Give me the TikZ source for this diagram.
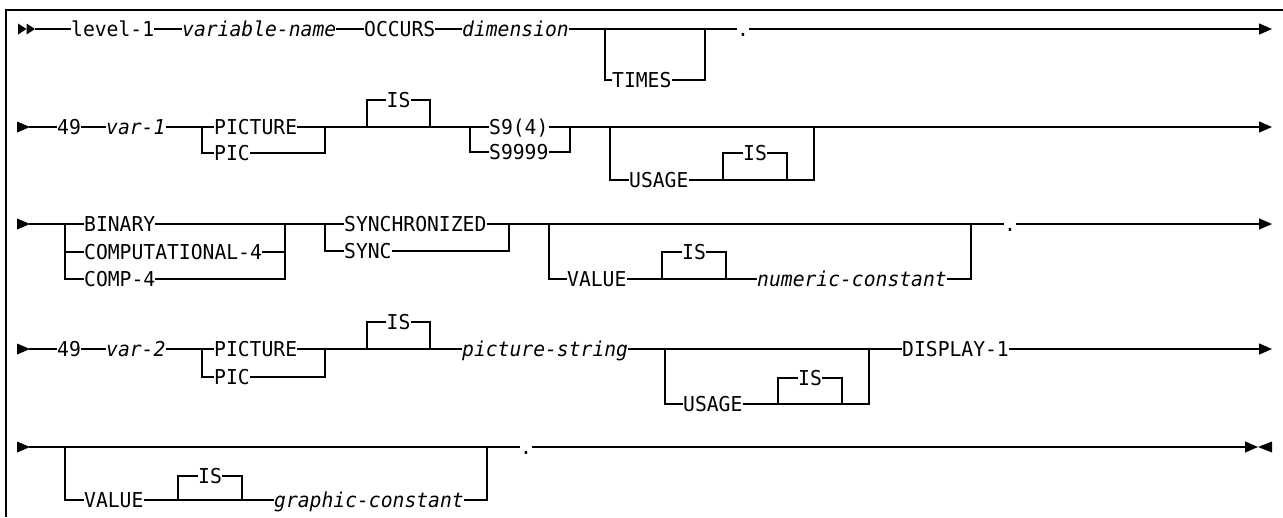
\documentclass[tikz,border=0pt]{standalone}
\usepackage{fontspec}
\usetikzlibrary{arrows.meta}
\newfontfamily\railfont{DejaVu Sans Mono}[FakeStretch=0.96]
\tikzset{
  rail/.style={line width=1.3pt},
  frame/.style={line width=1.7pt},
  endtip/.style={-{Triangle[length=13pt,width=11pt]}},
  kw/.style={font={\railfont\fontsize{20.5pt}{24pt}\selectfont}, inner xsep=0pt, inner ysep=0pt,
             text height=14.9pt, text depth=0pt, anchor=west},
  var/.style={kw, font={\railfont\itshape\fontsize{20.5pt}{24pt}\selectfont}},
  opt/.style={kw, anchor=center},
}
% filled start-of-line triangles
\newcommand{\startmark}[1]{\fill (#1) ++(0,-5.5) -- ++(13,5.5) -- ++(-13,5.5) -- cycle;}
\newcommand{\halfmark}[1]{\fill (#1) ++(0,-5.5) -- ++(8.5,5.5) -- ++(-8.5,5.5) -- cycle;}
\begin{document}
\begin{tikzpicture}[x=1pt, y=-1pt]
\useasboundingbox (0,0) rectangle (1283,517);
% frame
\draw[frame] (1283,10) -- (6,10) -- (6,517);

% ---------- statement 1: level-1 ----------
\coordinate (s1) at (18,29);
\coordinate (s1m) at (26.5,29);
\coordinate (s1b) at (35,29);
\halfmark{s1}
\halfmark{s1m}
\node[kw]  (lev)   at (71,29)  {level-1};
\node[var] (vname) at (182,29) {variable-name};
\node[kw]  (occ)   at (364,29) {OCCURS};
\node[var] (dim)   at (462,29) {dimension};
\node[kw]  (times) at (612,80) {TIMES};
\node[kw]  (dot1)  at (737,29) {.};
\coordinate (t1a) at (605,29);
\coordinate (t1b) at (705,29);
\coordinate (e1)  at (1272,29);
\draw[rail] (s1b) -- (lev.west) (lev.east) -- (vname.west) (vname.east) -- (occ.west)
            (occ.east) -- (dim.west) (dim.east) -- (dot1.west);
\draw[rail,endtip] (dot1.east) -- (e1);
\draw[rail] (t1a) |- (times.west) (times.east) -| (t1b);

% ---------- statement 2: 49 var-1 ----------
\coordinate (s2) at (17,127);
\coordinate (s2b) at (29,127);
\startmark{s2}
\node[kw]  (n49a)  at (57,127)  {49};
\node[var] (v1)    at (106,127) {var-1};
\node[kw]  (pict1) at (214,127) {PICTURE};
\node[kw]  (pic1)  at (214,153) {PIC};
\coordinate (pa1) at (202,127);
\coordinate (pb1) at (325,127);
\node[opt] (is1)   at (398.5,100) {IS};
\coordinate (ia1) at (367,127);
\coordinate (ib1) at (430,127);
\node[kw]  (s94)   at (489,127) {S9(4)};
\node[kw]  (s9999) at (489,152) {S9999};
\coordinate (sa) at (470,127);
\coordinate (sb) at (570,127);
\node[kw]  (use1)  at (629,180) {USAGE};
\coordinate (ua1) at (610,127);
\coordinate (ub1) at (814,127);
\node[opt] (is2)   at (755,153) {IS};
\coordinate (ja) at (723,180);
\coordinate (jb) at (787,180);
\coordinate (e2) at (1272,127);
\draw[rail] (s2b) -- (n49a.west) (n49a.east) -- (v1.west) (v1.east) -- (pict1.west)
            (pict1.east) -- (s94.west);
\draw[rail,endtip] (s94.east) -- (e2);
\draw[rail] (pa1) |- (pic1.west) (pic1.east) -| (pb1);
\draw[rail] (ia1) |- (is1.west) (is1.east) -| (ib1);
\draw[rail] (sa) |- (s9999.west) (s9999.east) -| (sb);
\draw[rail] (ua1) |- (use1.west) (use1.east) -| (ub1);
\draw[rail] (ja) |- (is2.west) (is2.east) -| (jb);

% ---------- statement 2, continued ----------
\coordinate (s3) at (17,224);
\coordinate (s3b) at (29,224);
\startmark{s3}
\node[kw]  (bin)   at (84,224)  {BINARY};
\node[kw]  (comp)  at (84,252)  {COMPUTATIONAL-4};
\node[kw]  (comp4) at (84,279)  {COMP-4};
\coordinate (ba) at (65,224);
\coordinate (bb) at (285,224);
\node[kw]  (synch) at (344,224) {SYNCHRONIZED};
\node[kw]  (sync)  at (344,251) {SYNC};
\coordinate (ya) at (325,224);
\coordinate (yb) at (509,224);
\node[kw]  (val1)  at (567,279) {VALUE};
\coordinate (va1) at (549,224);
\coordinate (vb1) at (971,224);
\node[opt] (is3)   at (694,252) {IS};
\coordinate (ka) at (662,279);
\coordinate (kb) at (726,279);
\node[var] (numc)  at (757,279) {numeric-constant};
\node[kw]  (dot3)  at (1004,224) {.};
\coordinate (e3) at (1272,224);
\draw[rail] (s3b) -- (bin.west) (bin.east) -- (synch.west) (synch.east) -- (dot3.west);
\draw[rail,endtip] (dot3.east) -- (e3);
\draw[rail] (ba) |- (comp.west) (ba) |- (comp4.west) (comp.east) -| (bb) (comp4.east) -| (bb);
\draw[rail] (ya) |- (sync.west) (sync.east) -| (yb);
\draw[rail] (va1) |- (val1.west) (val1.east) -- (numc.west) (numc.east) -| (vb1);
\draw[rail] (ka) |- (is3.west) (is3.east) -| (kb);

% ---------- statement 3: 49 var-2 ----------
\coordinate (s4) at (17,349);
\coordinate (s4b) at (29,349);
\startmark{s4}
\node[kw]  (n49b)  at (57,349)  {49};
\node[var] (v2)    at (106,349) {var-2};
\node[kw]  (pict2) at (214,349) {PICTURE};
\node[kw]  (pic2)  at (214,377) {PIC};
\coordinate (pa2) at (202,349);
\coordinate (pb2) at (325,349);
\node[opt] (is4)   at (398.5,322) {IS};
\coordinate (ia2) at (367,349);
\coordinate (ib2) at (430,349);
\node[var] (picstr) at (462,349) {picture-string};
\node[kw]  (use2)  at (683,404) {USAGE};
\coordinate (ua2) at (665,349);
\coordinate (ub2) at (869,349);
\node[opt] (is5)   at (810,378) {IS};
\coordinate (la) at (778,404);
\coordinate (lb) at (842,404);
\node[kw]  (disp)  at (902,349) {DISPLAY-1};
\coordinate (e4) at (1272,349);
\draw[rail] (s4b) -- (n49b.west) (n49b.east) -- (v2.west) (v2.east) -- (pict2.west)
            (pict2.east) -- (picstr.west) (picstr.east) -- (disp.west);
\draw[rail,endtip] (disp.east) -- (e4);
\draw[rail] (pa2) |- (pic2.west) (pic2.east) -| (pb2);
\draw[rail] (ia2) |- (is4.west) (is4.east) -| (ib2);
\draw[rail] (ua2) |- (use2.west) (use2.east) -| (ub2);
\draw[rail] (la) |- (is5.west) (is5.east) -| (lb);

% ---------- statement 3, continued ----------
\coordinate (s5) at (17,447);
\coordinate (s5b) at (29,447);
\startmark{s5}
\node[kw]  (val2)  at (84,500)  {VALUE};
\coordinate (wa) at (65,447);
\coordinate (wb) at (487,447);
\node[opt] (is6)   at (210,476) {IS};
\coordinate (ma) at (178,500);
\coordinate (mb) at (242,500);
\node[var] (gc)    at (274,500) {graphic-constant};
\node[kw]  (dot5)  at (520,447) {.};
\coordinate (e5) at (1258,447);
\draw[rail] (s5b) -- (dot5.west);
\draw[rail,endtip] (dot5.east) -- (e5);
\fill (1272,441.5) -- (e5) -- (1272,452.5) -- cycle;
\draw[rail] (wa) |- (val2.west) (val2.east) -- (gc.west) (gc.east) -| (wb);
\draw[rail] (ma) |- (is6.west) (is6.east) -| (mb);
\end{tikzpicture}
\end{document}
